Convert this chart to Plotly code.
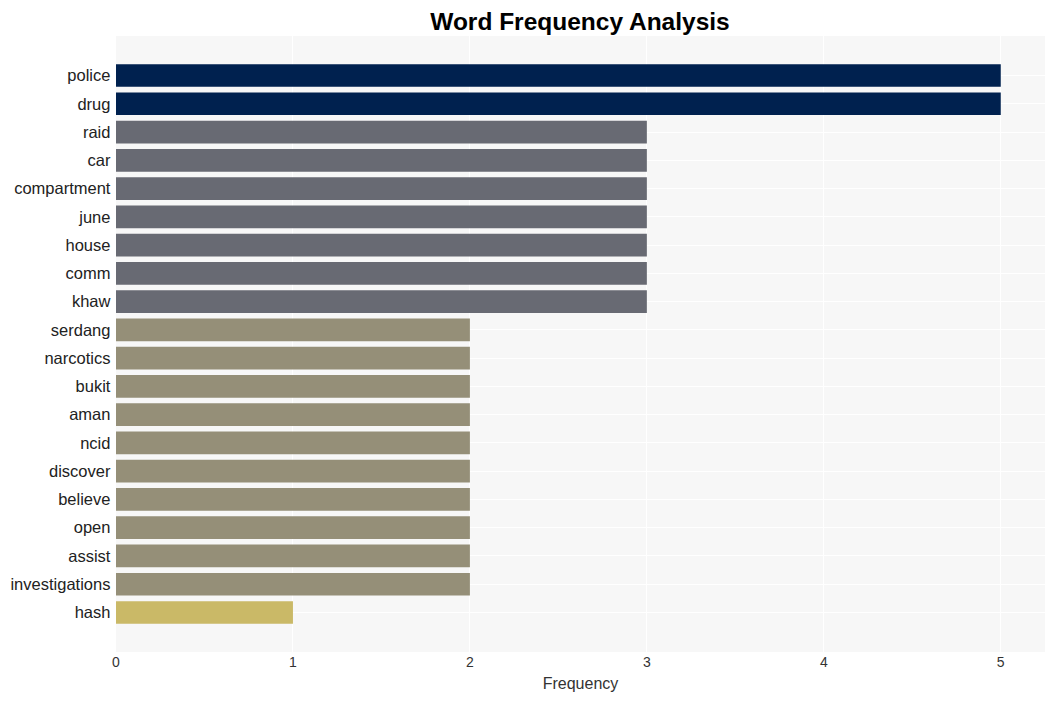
import plotly.graph_objects as go

words = ['police', 'drug', 'raid', 'car', 'compartment', 'june', 'house', 'comm', 'khaw',
         'serdang', 'narcotics', 'bukit', 'aman', 'ncid', 'discover', 'believe', 'open',
         'assist', 'investigations', 'hash']
counts = [5, 5, 3, 3, 3, 3, 3, 3, 3, 2, 2, 2, 2, 2, 2, 2, 2, 2, 2, 1]

# colour per frequency level
palette = {5: 'rgb(0,33,79)', 3: 'rgb(104,106,115)', 2: 'rgb(149,143,120)', 1: 'rgb(202,185,103)'}
colors = [palette[c] for c in counts]

fig = go.Figure(data=[
    go.Bar(x=counts, y=words, orientation='h', marker_color=colors, marker_line_width=0)
])

# page body has an 8px margin, so the figure is sized to fit inside the window
fig.update_layout(
    width=1039, height=685,
    margin=dict(l=108, r=2, t=28, b=41),
    title=dict(text='<b>Word Frequency Analysis</b>', x=0.5505, xanchor='center',
               y=0.981, yanchor='middle',
               font=dict(family='Arial, Liberation Sans', size=24.5, color='black')),
    paper_bgcolor='white',
    plot_bgcolor='#f7f7f7',
    bargap=0.2,
    font=dict(family='Arial, Liberation Sans', color='#333'),
    showlegend=False,
)
fig.update_xaxes(range=[0, 5.25], dtick=1, gridcolor='white', zeroline=False,
                 title=dict(text='Frequency', font=dict(size=16, color='#333'), standoff=8),
                 tickfont=dict(size=14, color='#333'))
fig.update_yaxes(categoryorder='array', categoryarray=words[::-1], range=[-1.4, 20.4],
                 gridcolor='white', tickfont=dict(size=16.5, color='#222'), ticksuffix=' ')

fig.write_html("out.html")
